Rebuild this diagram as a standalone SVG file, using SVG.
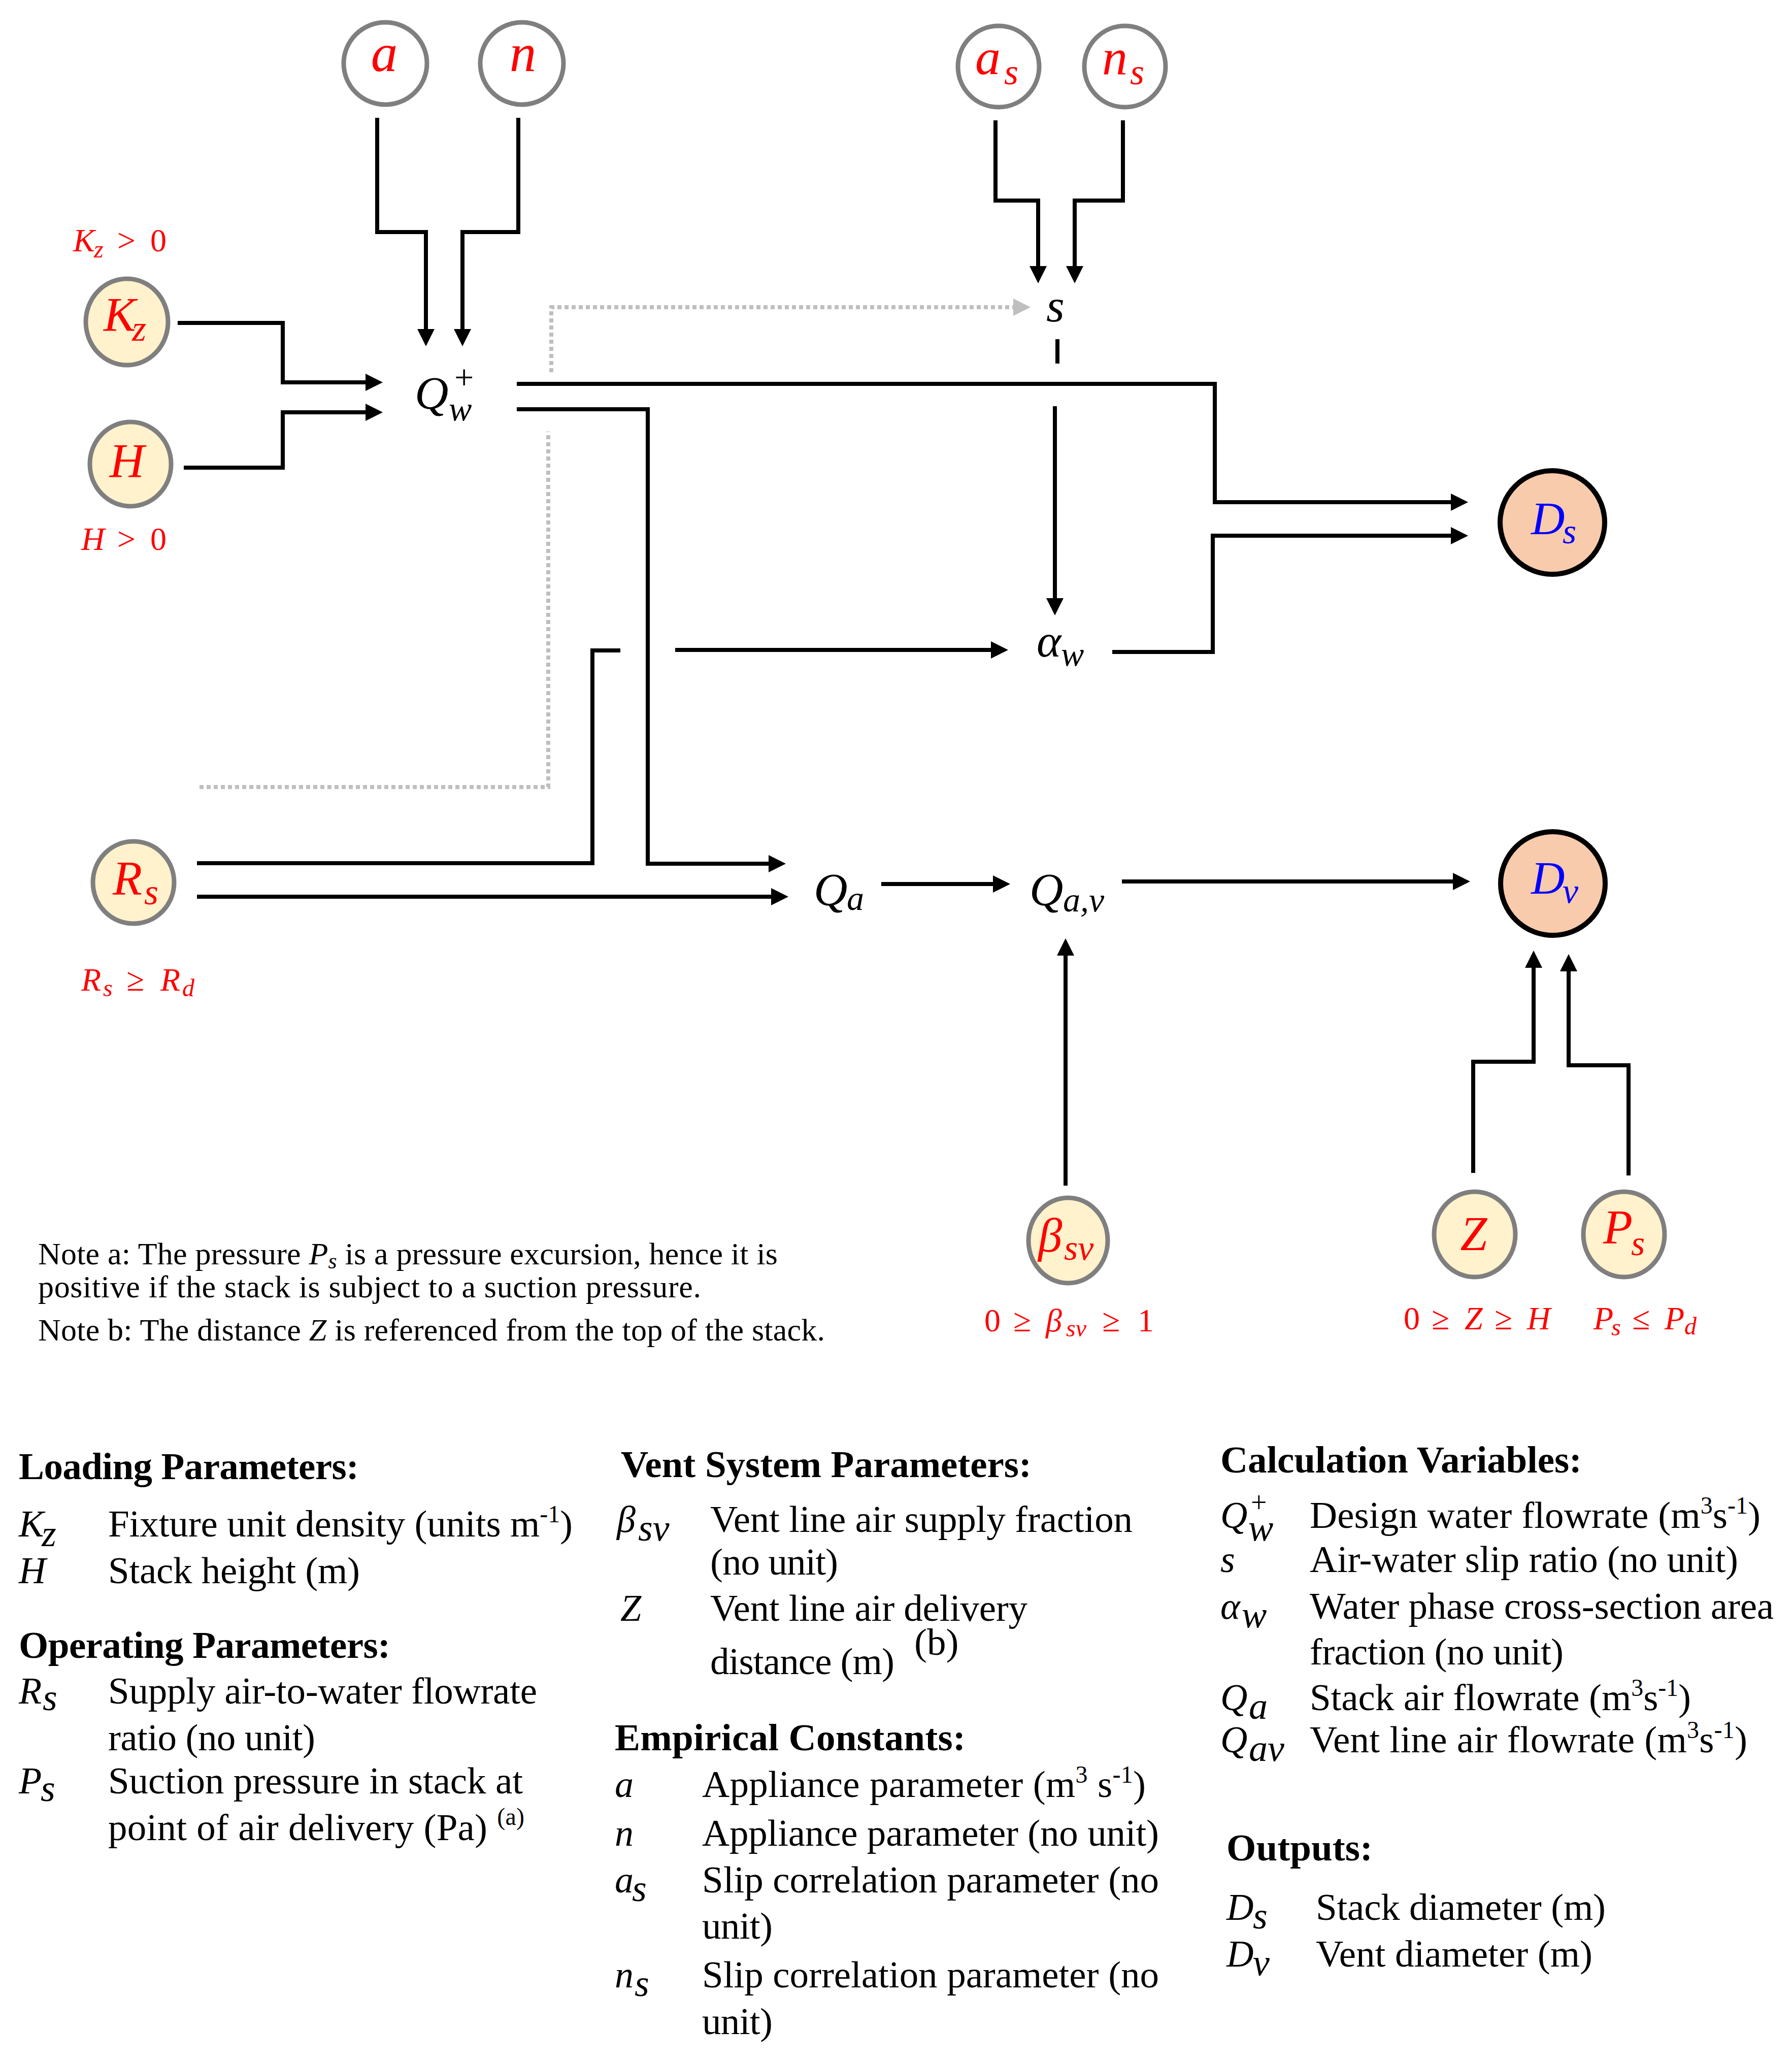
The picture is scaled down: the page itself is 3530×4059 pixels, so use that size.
<svg xmlns="http://www.w3.org/2000/svg" width="3530" height="4059" viewBox="0 0 3530 4059">
<style>
text { font-family: "Liberation Serif", "Times New Roman", serif; }
.m { font-style: italic; }
.red { fill: #FF0000; }
.blue { fill: #0000FF; }
.conn { fill: none; stroke: #000000; stroke-width: 8; stroke-linejoin: miter; }
.dot { fill: none; stroke: #BFBFBF; stroke-width: 8; stroke-dasharray: 8 6; }
.in { fill: #FFF2CC; stroke: #7F7F7F; stroke-width: 9; }
.cst { fill: #FFFFFF; stroke: #7F7F7F; stroke-width: 9; }
.out { fill: #F8CBAD; stroke: #000000; stroke-width: 10; }
.lg { font-size: 75px; fill: #000; }
.hd { font-size: 75px; font-weight: bold; fill: #000; }
.sym { font-size: 74px; font-style: italic; fill: #000; }
.note { font-size: 62px; fill: #000; }
</style>
<defs>
<marker id="ah" markerUnits="userSpaceOnUse" markerWidth="34" markerHeight="34" viewBox="0 0 34 34" refX="14" refY="17" orient="auto">
<path d="M0,0 L34,17 L0,34 Z" fill="#000000"/>
</marker>
<marker id="ahg" markerUnits="userSpaceOnUse" markerWidth="34" markerHeight="34" viewBox="0 0 34 34" refX="14" refY="17" orient="auto">
<path d="M0,0 L34,17 L0,34 Z" fill="#BFBFBF"/>
</marker>
</defs>
<rect x="0" y="0" width="3530" height="4059" fill="#FFFFFF"/>

<g id="connectors">
<path class="conn" d="M743,232 V457 H839 V662" marker-end="url(#ah)"/>
<path class="conn" d="M1021,232 V457 H911 V662" marker-end="url(#ah)"/>
<path class="conn" d="M350,636 H557 V753 H734" marker-end="url(#ah)"/>
<path class="conn" d="M362,921 H557 V812 H734" marker-end="url(#ah)"/>
<path class="conn" d="M1018,756 H2393 V989 H2872" marker-end="url(#ah)"/>
<path class="conn" d="M1018,806 H1276 V1701 H1528" marker-end="url(#ah)"/>
<path class="conn" d="M2191,1284 H2389 V1055 H2872" marker-end="url(#ah)"/>
<path class="conn" d="M1961,237 V395 H2045 V538" marker-end="url(#ah)"/>
<path class="conn" d="M2212,237 V395 H2117 V538" marker-end="url(#ah)"/>
<path class="conn" d="M2083,668 V716"/>
<path class="conn" d="M2078,800 V1192" marker-end="url(#ah)"/>
<path class="conn" d="M388,1700 H1167 V1281 H1222"/>
<path class="conn" d="M1330,1280 H1966" marker-end="url(#ah)"/>
<path class="conn" d="M388,1766 H1533" marker-end="url(#ah)"/>
<path class="conn" d="M1736,1741 H1970" marker-end="url(#ah)"/>
<path class="conn" d="M2210,1736 H2876" marker-end="url(#ah)"/>
<path class="conn" d="M2099,2335 V1868" marker-end="url(#ah)"/>
<path class="conn" d="M2902,2310 V2091 H3021 V1892" marker-end="url(#ah)"/>
<path class="conn" d="M3208,2315 V2098 H3090 V1899" marker-end="url(#ah)"/>
<path class="dot" d="M393,1550 H1080 V850"/>
<path class="dot" d="M1086,733 V605 H2010" marker-end="url(#ahg)"/>
</g>

<g id="node-a">
<ellipse class="cst" cx="759" cy="125" rx="82" ry="81"/>
<text class="m red" x="757" y="140" font-size="105" text-anchor="middle">a</text>
</g>
<g id="node-n">
<ellipse class="cst" cx="1028" cy="125" rx="82" ry="81"/>
<text class="m red" x="1030" y="140" font-size="105" text-anchor="middle">n</text>
</g>
<g id="node-as">
<ellipse class="cst" cx="1967" cy="131" rx="80" ry="80"/>
<text class="m red" x="1921" y="146" font-size="100">a</text>
<text class="m red" x="1978" y="166" font-size="72">s</text>
</g>
<g id="node-ns">
<ellipse class="cst" cx="2216" cy="131" rx="80" ry="80"/>
<text class="m red" x="2171" y="146" font-size="100">n</text>
<text class="m red" x="2226" y="166" font-size="72">s</text>
</g>
<g id="node-Kz">
<ellipse class="in" cx="250" cy="634" rx="81" ry="85"/>
<text class="m red" x="204" y="652" font-size="95">K</text>
<text class="m red" x="260" y="671" font-size="72">z</text>
<text class="m red" x="144" y="495" font-size="64">K</text>
<text class="m red" x="185" y="507" font-size="48">z</text>
<text class="red" x="231" y="495" font-size="64">&gt;</text>
<text class="red" x="296" y="495" font-size="64">0</text>
</g>
<g id="node-H">
<ellipse class="in" cx="257" cy="914" rx="80" ry="83"/>
<text class="m red" x="250" y="940" font-size="95" text-anchor="middle">H</text>
<text class="m red" x="160" y="1083" font-size="64">H</text>
<text class="red" x="231" y="1083" font-size="64">&gt;</text>
<text class="red" x="296" y="1083" font-size="64">0</text>
</g>
<g id="node-Rs">
<ellipse class="in" cx="263" cy="1738" rx="80" ry="81"/>
<text class="m red" x="222" y="1762" font-size="95">R</text>
<text class="m red" x="284" y="1781" font-size="72">s</text>
<text class="m red" x="160" y="1951" font-size="64">R</text>
<text class="m red" x="203" y="1962" font-size="48">s</text>
<text class="red" x="249" y="1951" font-size="64">≥</text>
<text class="m red" x="316" y="1951" font-size="64">R</text>
<text class="m red" x="359" y="1962" font-size="48">d</text>
</g>
<g id="node-Qw">
<text class="m" x="817" y="805" font-size="92">Q</text>
<text class="m" x="884" y="828" font-size="68">w</text>
<text x="895" y="766" font-size="68">+</text>
</g>
<g id="node-s">
<text class="m" x="2061" y="633" font-size="92">s</text>
</g>
<g id="node-alphaw">
<text class="m" x="2042" y="1293" font-size="92">α</text>
<text class="m" x="2090" y="1311" font-size="68">w</text>
</g>
<g id="node-Qa">
<text class="m" x="1603" y="1783" font-size="92">Q</text>
<text class="m" x="1668" y="1792" font-size="68">a</text>
</g>
<g id="node-Qav">
<text class="m" x="2028" y="1783" font-size="92">Q</text>
<text class="m" x="2094" y="1795" font-size="68">a,v</text>
</g>
<g id="node-Ds">
<ellipse class="out" cx="3058" cy="1029" rx="103" ry="102"/>
<text class="m blue" x="3016" y="1052" font-size="92">D</text>
<text class="m blue" x="3078" y="1070" font-size="70">s</text>
</g>
<g id="node-Dv">
<ellipse class="out" cx="3059" cy="1740" rx="103" ry="102"/>
<text class="m blue" x="3016" y="1760" font-size="92">D</text>
<text class="m blue" x="3078" y="1778" font-size="70">v</text>
</g>
<g id="node-beta">
<ellipse class="in" cx="2104" cy="2443" rx="78" ry="84"/>
<text class="m red" x="2045" y="2465" font-size="95">β</text>
<text class="m red" x="2096" y="2481" font-size="70">sv</text>
<text class="red" x="1939" y="2622" font-size="64">0</text>
<text class="red" x="1996" y="2622" font-size="64">≥</text>
<text class="m red" x="2060" y="2622" font-size="64">β</text>
<text class="m red" x="2100" y="2632" font-size="48">sv</text>
<text class="red" x="2171" y="2622" font-size="64">≥</text>
<text class="red" x="2241" y="2622" font-size="64">1</text>
</g>
<g id="node-Z">
<ellipse class="in" cx="2905" cy="2431" rx="80" ry="84"/>
<text class="m red" x="2903" y="2462" font-size="95" text-anchor="middle">Z</text>
<text class="red" x="2765" y="2618" font-size="64">0</text>
<text class="red" x="2820" y="2618" font-size="64">≥</text>
<text class="m red" x="2885" y="2618" font-size="64">Z</text>
<text class="red" x="2944" y="2618" font-size="64">≥</text>
<text class="m red" x="3008" y="2618" font-size="64">H</text>
</g>
<g id="node-Ps">
<ellipse class="in" cx="3199" cy="2431" rx="80" ry="84"/>
<text class="m red" x="3158" y="2449" font-size="95">P</text>
<text class="m red" x="3213" y="2472" font-size="70">s</text>
<text class="m red" x="3139" y="2618" font-size="64">P</text>
<text class="m red" x="3174" y="2630" font-size="48">s</text>
<text class="red" x="3215" y="2618" font-size="64">≤</text>
<text class="m red" x="3279" y="2618" font-size="64">P</text>
<text class="m red" x="3318" y="2628" font-size="48">d</text>
</g>

<g id="notes">
<text class="note" x="75" y="2490" textLength="1457" lengthAdjust="spacing">Note a: The pressure <tspan font-style="italic">P</tspan><tspan font-style="italic" font-size="44" dy="8">s</tspan><tspan dy="-8"> is a pressure excursion, hence it is</tspan></text>
<text class="note" x="75" y="2555" textLength="1306" lengthAdjust="spacing">positive if the stack is subject to a  suction pressure.</text>
<text class="note" x="75" y="2640" textLength="1550" lengthAdjust="spacing">Note b: The distance <tspan font-style="italic">Z</tspan> is referenced  from the top of the stack.</text>
</g>

<g id="legend">
<text class="hd" x="37" y="2913" textLength="670" lengthAdjust="spacing">Loading Parameters:</text>
<text class="sym" x="37" y="3026">K</text><text class="sym" x="82" y="3045" font-size="56">z</text>
<text class="lg" x="213" y="3026" textLength="915" lengthAdjust="spacing">Fixture unit density (units m<tspan font-size="48" dy="-28">-1</tspan><tspan dy="28">)</tspan></text>
<text class="sym" x="37" y="3118">H</text>
<text class="lg" x="213" y="3118" textLength="496" lengthAdjust="spacing">Stack height (m)</text>
<text class="hd" x="37" y="3265" textLength="732" lengthAdjust="spacing">Operating Parameters:</text>
<text class="sym" x="37" y="3355">R</text><text class="sym" x="84" y="3368" font-size="56">s</text>
<text class="lg" x="213" y="3355" textLength="845" lengthAdjust="spacing">Supply air-to-water  flowrate</text>
<text class="lg" x="213" y="3447" textLength="408" lengthAdjust="spacing">ratio (no unit)</text>
<text class="sym" x="37" y="3532">P</text><text class="sym" x="80" y="3547" font-size="56">s</text>
<text class="lg" x="213" y="3532" textLength="817" lengthAdjust="spacing">Suction pressure in stack at</text>
<text class="lg" x="213" y="3624" textLength="820" lengthAdjust="spacing">point of air delivery  (Pa) <tspan font-size="48" dy="-30">(a)</tspan></text>

<text class="hd" x="1223" y="2909" textLength="809" lengthAdjust="spacing">Vent System Parameters:</text>
<text class="sym" x="1215" y="3017">β</text><text class="sym" x="1257" y="3034" font-size="56">sv</text>
<text class="lg" x="1399" y="3017" textLength="832" lengthAdjust="spacing">Vent line air  supply fraction</text>
<text class="lg" x="1399" y="3101" textLength="252" lengthAdjust="spacing">(no unit)</text>
<text class="sym" x="1222" y="3192">Z</text>
<text class="lg" x="1399" y="3192" textLength="625" lengthAdjust="spacing">Vent line air  delivery</text>
<text class="lg" x="1399" y="3297" textLength="363" lengthAdjust="spacing">distance (m)</text>
<text class="lg" x="1801" y="3259" font-size="44">(b)</text>
<text class="hd" x="1211" y="3447" textLength="691" lengthAdjust="spacing">Empirical Constants:</text>
<text class="sym" x="1211" y="3539">a</text>
<text class="lg" x="1383" y="3539" textLength="874" lengthAdjust="spacing">Appliance parameter  (m<tspan font-size="48" dy="-28">3</tspan><tspan dy="28"> s</tspan><tspan font-size="48" dy="-28">-1</tspan><tspan dy="28">)</tspan></text>
<text class="sym" x="1211" y="3635">n</text>
<text class="lg" x="1383" y="3635" textLength="900" lengthAdjust="spacing">Appliance parameter  (no unit)</text>
<text class="sym" x="1211" y="3727">a</text><text class="sym" x="1245" y="3744" font-size="56">s</text>
<text class="lg" x="1383" y="3727" textLength="900" lengthAdjust="spacing">Slip correlation  parameter  (no</text>
<text class="lg" x="1383" y="3818" textLength="139" lengthAdjust="spacing">unit)</text>
<text class="sym" x="1211" y="3914">n</text><text class="sym" x="1250" y="3931" font-size="56">s</text>
<text class="lg" x="1383" y="3914" textLength="900" lengthAdjust="spacing">Slip correlation  parameter  (no</text>
<text class="lg" x="1383" y="4006" textLength="139" lengthAdjust="spacing">unit)</text>

<text class="hd" x="2404" y="2900" textLength="712" lengthAdjust="spacing">Calculation Variables:</text>
<text class="sym" x="2404" y="3009">Q</text><text class="sym" x="2459" y="3034" font-size="56">w</text><text x="2464" y="2978" font-size="56">+</text>
<text class="lg" x="2580" y="3009" textLength="888" lengthAdjust="spacing">Design water flowrate (m<tspan font-size="48" dy="-28">3</tspan><tspan dy="28">s</tspan><tspan font-size="48" dy="-28">-1</tspan><tspan dy="28">)</tspan></text>
<text class="sym" x="2404" y="3096">s</text>
<text class="lg" x="2580" y="3096" textLength="844" lengthAdjust="spacing">Air-water slip ratio (no unit)</text>
<text class="sym" x="2404" y="3188">α</text><text class="sym" x="2446" y="3205" font-size="56">w</text>
<text class="lg" x="2580" y="3188" textLength="914" lengthAdjust="spacing">Water phase cross-section area</text>
<text class="lg" x="2580" y="3278" textLength="500" lengthAdjust="spacing">fraction (no unit)</text>
<text class="sym" x="2404" y="3368">Q</text><text class="sym" x="2460" y="3385" font-size="56">a</text>
<text class="lg" x="2580" y="3368" textLength="751" lengthAdjust="spacing">Stack air flowrate (m<tspan font-size="48" dy="-28">3</tspan><tspan dy="28">s</tspan><tspan font-size="48" dy="-28">-1</tspan><tspan dy="28">)</tspan></text>
<text class="sym" x="2404" y="3451">Q</text><text class="sym" x="2460" y="3468" font-size="56">av</text>
<text class="lg" x="2580" y="3451" textLength="862" lengthAdjust="spacing">Vent line air flowrate (m<tspan font-size="48" dy="-28">3</tspan><tspan dy="28">s</tspan><tspan font-size="48" dy="-28">-1</tspan><tspan dy="28">)</tspan></text>
<text class="hd" x="2416" y="3664" textLength="288" lengthAdjust="spacing">Outputs:</text>
<text class="sym" x="2416" y="3781">D</text><text class="sym" x="2468" y="3798" font-size="56">s</text>
<text class="lg" x="2592" y="3781" textLength="571" lengthAdjust="spacing">Stack diameter  (m)</text>
<text class="sym" x="2416" y="3873">D</text><text class="sym" x="2468" y="3890" font-size="56">v</text>
<text class="lg" x="2592" y="3873" textLength="545" lengthAdjust="spacing">Vent diameter  (m)</text>
</g>
</svg>
